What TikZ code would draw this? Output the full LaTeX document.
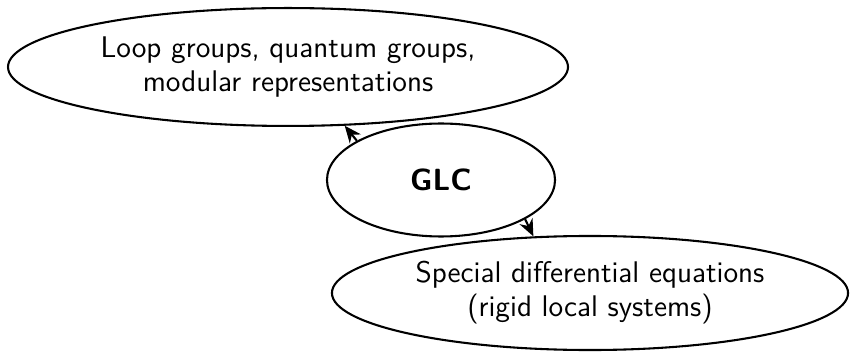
\documentclass[tikz,border=0pt]{standalone}
\usepackage{tikz}
\usetikzlibrary{arrows.meta, shapes.geometric}
\tikzset{
    topic-ellipse/.style = {draw, ellipse, line width=0.8pt, inner sep=0pt, align=center, font=\sffamily\fontsize{11.5}{13.1}\selectfont},
    link-arrow/.style = {-{Stealth[length=6.5pt, width=5.5pt]}, line width=0.8pt},
}

\begin{document}
\begin{tikzpicture}[x=0.385pt, y=-0.385pt]
\useasboundingbox (0,0) rectangle (850,352);
\node [topic-ellipse, minimum width=215.6pt, minimum height=45.4pt] (loops) at (288,67)
    {Loop groups, quantum groups,\\ modular representations};
\node [topic-ellipse, minimum width=87.8pt, minimum height=43.5pt, font=\sffamily\bfseries\fontsize{11.8}{13.1}\selectfont] (glc) at (441,180) {GLC};
\node [topic-ellipse, minimum width=198.7pt, minimum height=43.9pt] (special) at (590,293)
    {Special differential equations\\ (rigid local systems)};
\draw [link-arrow] (glc.155) -- (loops.-46);
\draw [link-arrow] (glc.-25) -- (special.135);
\end{tikzpicture}
\end{document}
